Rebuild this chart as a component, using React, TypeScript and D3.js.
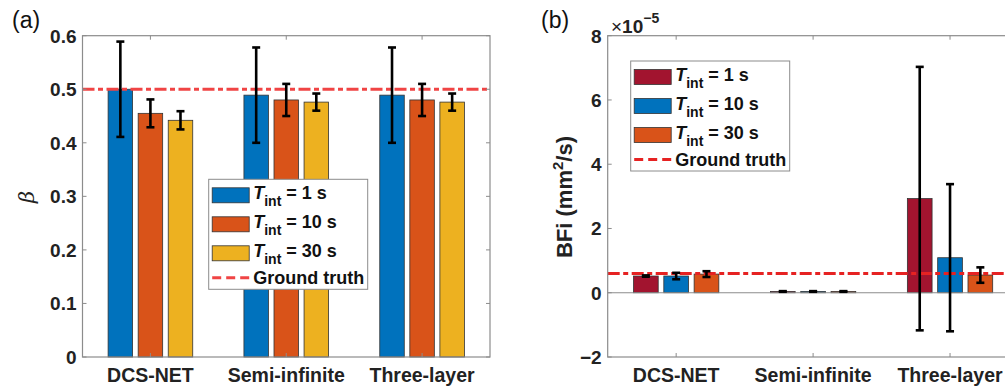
import React from "react";
import * as d3 from "d3";

// Shared categories along the x axis
const categories = ["DCS-NET", "Semi-infinite", "Three-layer"];
const seriesLabels = ["1 s", "10 s", "30 s"];

// Panel (a): beta estimates, one array per integration time
const beta1s = [0.5, 0.489, 0.489];
const beta10s = [0.455, 0.48, 0.48];
const beta30s = [0.442, 0.476, 0.476];
const betaErr1s = [0.089, 0.089, 0.089];
const betaErr10s = [0.026, 0.03, 0.03];
const betaErr30s = [0.017, 0.016, 0.016];
const betaTruth = 0.5;
const betaTicks = [0, 0.1, 0.2, 0.3, 0.4, 0.5, 0.6];

// Panel (b): BFi estimates in units of 1e-5 mm^2/s
const bfi1s = [0.52, 0.04, 2.93];
const bfi10s = [0.52, 0.04, 1.09];
const bfi30s = [0.58, 0.04, 0.55];
const bfiErr1s = [0.02, 0.01, 4.1];
const bfiErr10s = [0.1, 0.01, 2.29];
const bfiErr30s = [0.09, 0.01, 0.24];
const bfiTruth = 0.6;
const bfiTicks = [-2, 0, 2, 4, 6, 8];

const FONT = "'Liberation Sans', Arial, Helvetica, sans-serif";
const AXIS = "#8c8c8c";
const TRUTH_DASH = "12 3.5 5 3.5";

type PanelProps = {
  left: number;
  right: number;
  top: number;
  bottom: number;
  domain: [number, number];
  ticks: number[];
  tickFormat: (v: number) => string;
  means: number[][];
  errs: number[][];
  colors: string[];
  truth: number;
  truthColor: string;
  zeroLine: boolean;
  legendX: number;
  legendY: number;
};

function Legend({ x, y, colors, truthColor }: { x: number; y: number; colors: string[]; truthColor: string }) {
  const rowY = [16, 45, 74];
  return (
    <g transform={`translate(${x},${y})`}>
      <rect x={0} y={0} width={159} height={110} fill="white" stroke={AXIS} strokeWidth={1} />
      {seriesLabels.map((lab, i) => (
        <g key={lab}>
          <rect x={3.5} y={rowY[i] - 7.5} width={37} height={15} fill={colors[i]} stroke="#333" strokeWidth={0.8} />
          <text x={44.5} y={rowY[i] + 4} fontFamily={FONT} fontWeight="bold" fontSize={18} fill="#111">
            <tspan fontStyle="italic">T</tspan>
            <tspan fontSize={14} dy={7}>int</tspan>
            <tspan dy={-7}>{` = ${lab}`}</tspan>
          </text>
        </g>
      ))}
      <line x1={3.5} x2={40.5} y1={98.5} y2={98.5} stroke={truthColor} strokeWidth={3} strokeDasharray="9 5" />
      <text x={44.5} y={104.5} fontFamily={FONT} fontWeight="bold" fontSize={18} fill="#111">
        Ground truth
      </text>
    </g>
  );
}

function Panel(p: PanelProps) {
  const x0 = d3.scaleBand<string>().domain(categories).range([p.left, p.right]).padding(0);
  const groupW = x0.bandwidth() * 0.664;
  const x1 = d3
    .scaleBand<string>()
    .domain(seriesLabels)
    .range([-groupW / 2, groupW / 2])
    .paddingInner(0.185)
    .paddingOuter(0.0925);
  const y = d3.scaleLinear().domain(p.domain).range([p.bottom, p.top]);
  const base = y(Math.max(0, p.domain[0]));
  const cx = (c: string) => (x0(c) as number) + x0.bandwidth() / 2;
  const tickLen = 4;

  return (
    <g>
      {/* bars */}
      {seriesLabels.map((s, si) =>
        categories.map((c, ci) => {
          const v = p.means[si][ci];
          const bx = cx(c) + (x1(s) as number);
          return (
            <rect
              key={`${s}-${c}`}
              x={bx}
              y={Math.min(y(v), base)}
              width={x1.bandwidth()}
              height={Math.abs(base - y(v))}
              fill={p.colors[si]}
              stroke="#333"
              strokeWidth={0.8}
            />
          );
        })
      )}
      {p.zeroLine && <line x1={p.left} x2={p.right} y1={y(0)} y2={y(0)} stroke={AXIS} strokeWidth={1.2} />}
      {/* ground truth */}
      <line
        x1={p.left}
        x2={p.right}
        y1={y(p.truth)}
        y2={y(p.truth)}
        stroke={p.truthColor}
        strokeWidth={3}
        strokeDasharray={TRUTH_DASH}
      />
      {/* error bars */}
      {seriesLabels.map((s, si) =>
        categories.map((c, ci) => {
          const v = p.means[si][ci];
          const e = p.errs[si][ci];
          const ex = cx(c) + (x1(s) as number) + x1.bandwidth() / 2;
          return (
            <g key={`e-${s}-${c}`} stroke="#000" strokeWidth={2.6}>
              <line x1={ex} x2={ex} y1={y(v + e)} y2={y(v - e)} />
              <line x1={ex - 4} x2={ex + 4} y1={y(v + e)} y2={y(v + e)} />
              <line x1={ex - 4} x2={ex + 4} y1={y(v - e)} y2={y(v - e)} />
            </g>
          );
        })
      )}
      {/* axes box */}
      <rect x={p.left} y={p.top} width={p.right - p.left} height={p.bottom - p.top} fill="none" stroke={AXIS} strokeWidth={1.2} />
      {p.ticks.map((t) => (
        <g key={`yt-${t}`}>
          <line x1={p.left} x2={p.left + tickLen} y1={y(t)} y2={y(t)} stroke={AXIS} />
          <line x1={p.right} x2={p.right - tickLen} y1={y(t)} y2={y(t)} stroke={AXIS} />
          <text
            x={p.left - 6}
            y={y(t)}
            dy="0.36em"
            textAnchor="end"
            fontFamily={FONT}
            fontWeight="bold"
            fontSize={19}
            fill="#222"
          >
            {p.tickFormat(t)}
          </text>
        </g>
      ))}
      {categories.map((c) => (
        <g key={`xt-${c}`}>
          <line x1={cx(c)} x2={cx(c)} y1={p.bottom} y2={p.bottom - tickLen} stroke={AXIS} />
          <line x1={cx(c)} x2={cx(c)} y1={p.top} y2={p.top + tickLen} stroke={AXIS} />
          <text x={cx(c)} y={p.bottom + 25} textAnchor="middle" fontFamily={FONT} fontWeight="bold" fontSize={19.5} fill="#222">
            {c}
          </text>
        </g>
      ))}
      <Legend x={p.legendX} y={p.legendY} colors={p.colors} truthColor={p.truthColor} />
    </g>
  );
}

export default function App() {
  const blue = "#0072BD";
  const orange = "#D95319";
  const yellow = "#EDB120";
  const wine = "#A2142F";
  return (
    <svg
      width={1005}
      height={390}
      style={{ position: "absolute", left: 0, top: 0, background: "white" }}
      xmlns="http://www.w3.org/2000/svg"
    >
      <rect width={1005} height={390} fill="white" />
      <text x={12} y={28} fontFamily={FONT} fontSize={23} fill="#111">(a)</text>
      <text x={541} y={28} fontFamily={FONT} fontSize={23} fill="#111">(b)</text>

      <Panel
        left={82.5}
        right={490}
        top={35.7}
        bottom={357}
        domain={[0, 0.6]}
        ticks={betaTicks}
        tickFormat={(v) => (v === 0 ? "0" : d3.format(".1f")(v))}
        means={[beta1s, beta10s, beta30s]}
        errs={[betaErr1s, betaErr10s, betaErr30s]}
        colors={[blue, orange, yellow]}
        truth={betaTruth}
        truthColor="#f04444"
        zeroLine={false}
        legendX={208.7}
        legendY={179.3}
      />
      <text
        transform="translate(34,197) rotate(-90)"
        textAnchor="middle"
        fontFamily="'DejaVu Serif', serif"
        fontStyle="italic"
        fontSize={21}
        fill="#222"
      >
        β
      </text>

      <Panel
        left={607.7}
        right={1018.5}
        top={35.7}
        bottom={357}
        domain={[-2, 8]}
        ticks={bfiTicks}
        tickFormat={(v) => (v < 0 ? `\u2212${Math.abs(v)}` : `${v}`)}
        means={[bfi1s, bfi10s, bfi30s]}
        errs={[bfiErr1s, bfiErr10s, bfiErr30s]}
        colors={[wine, blue, orange]}
        truth={bfiTruth}
        truthColor="#e62222"
        zeroLine={true}
        legendX={630.7}
        legendY={61}
      />
      <text
        transform="translate(572,197) rotate(-90)"
        textAnchor="middle"
        fontFamily={FONT}
        fontWeight="bold"
        fontSize={22}
        fill="#222"
      >
        BFi (mm<tspan fontSize={15} dy={-9}>2</tspan>
        <tspan dy={9}>/s)</tspan>
      </text>
      <text x={611} y={32.5} fontFamily={FONT} fontSize={19} fill="#222">
        ×<tspan fontWeight="bold" fontSize={19}>10</tspan>
        <tspan fontSize={14} fontWeight="bold" dy={-10}>−5</tspan>
      </text>
    </svg>
  );
}
